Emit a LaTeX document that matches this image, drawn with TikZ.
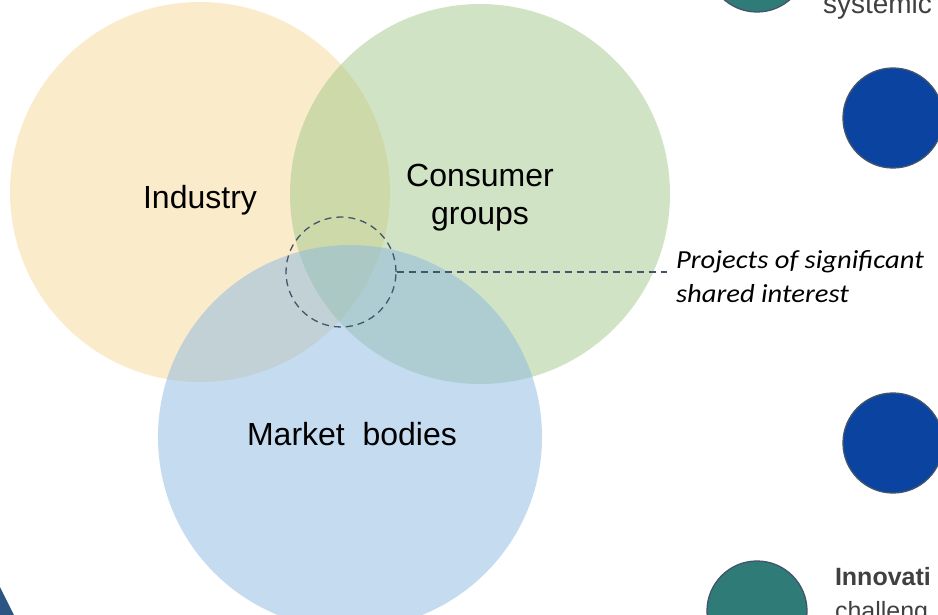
\documentclass[tikz,border=0pt]{standalone}
\usepackage{fontspec}
\setmainfont{Liberation Sans}
\newfontfamily\notefont[FakeStretch=1.1]{Carlito}
\usetikzlibrary{positioning}

\begin{document}
\begin{tikzpicture}[x=1pt,y=-1pt,
  venn/.style={circle,inner sep=0pt,outer sep=0pt,minimum size=#1,fill opacity=0.5},
  vennLabel/.style={text=black,anchor=base,inner sep=0pt,outer sep=0pt,align=center,font=\fontsize{32}{38}\selectfont},
  dot/.style={circle,inner sep=0pt,outer sep=0pt,minimum size=100pt,draw=dashColor,line width=1.3pt},
  sideText/.style={text=sideColor,anchor=base west,inner sep=0pt,outer sep=0pt,align=left,font=\fontsize{25}{34}\selectfont}]
\definecolor{industryColor}{HTML}{F6D896}
\definecolor{consumerColor}{HTML}{A2C98A}
\definecolor{marketColor}{HTML}{8CB8E2}
\definecolor{dashColor}{HTML}{44546A}
\definecolor{tealColor}{HTML}{2E7B78}
\definecolor{blueColor}{HTML}{0B44A0}
\definecolor{sideColor}{HTML}{404040}
\definecolor{cornerColor}{HTML}{2D5583}
\path[use as bounding box,fill=white] (0,0) rectangle (938,615);
\begin{scope}
\path[clip] (0,0) rectangle (938,615);

% the three groups
\node[venn=380pt,fill=industryColor] (industry) at (200,192) {};
\node[venn=380pt,fill=consumerColor] (consumer) at (480,194) {};
\node[venn=384pt,fill=marketColor] (market) at (350,437) {};

% base = last line
\node[vennLabel] (industryText) at (200,208) {Industry};
\node[vennLabel] (consumerText) at (480,225) {Consumer\\groups};
\node[vennLabel] (marketText) at (352,445) {Market\ \ bodies};

% shared interest
\node[circle,inner sep=0pt,minimum size=110pt,draw=dashColor,line width=1.3pt,
  dash pattern=on 7pt off 5pt] (shared) at (341,272) {};
\coordinate (leadEnd) at (667,272);
\draw[draw=dashColor,line width=1.3pt,dash pattern=on 7pt off 5pt] (shared.east) -- (leadEnd);
\node[anchor=base west,inner sep=0pt,outer sep=0pt,align=left,
  font=\notefont\itshape\fontsize{26}{34}\selectfont] (projects) at (676,302)
  {Projects of significant\\shared interest};

% side markers
\node[dot,fill=tealColor] (topDot) at (757,-38) {};
\node[dot,fill=blueColor] (upperDot) at (893,118) {};
\node[dot,fill=blueColor] (lowerDot) at (893,443) {};
\node[dot,fill=tealColor] (bottomDot) at (757,611) {};

\node[sideText,font=\fontsize{28}{34}\selectfont] (systemicText) at (823,14) {systemic};
\node[sideText] (innovText) at (835,619) {\textbf{Innovati}\\challeng};

\fill[cornerColor] (0,587) -- (14,615) -- (0,615) -- cycle;
\end{scope}
\end{tikzpicture}
\end{document}
